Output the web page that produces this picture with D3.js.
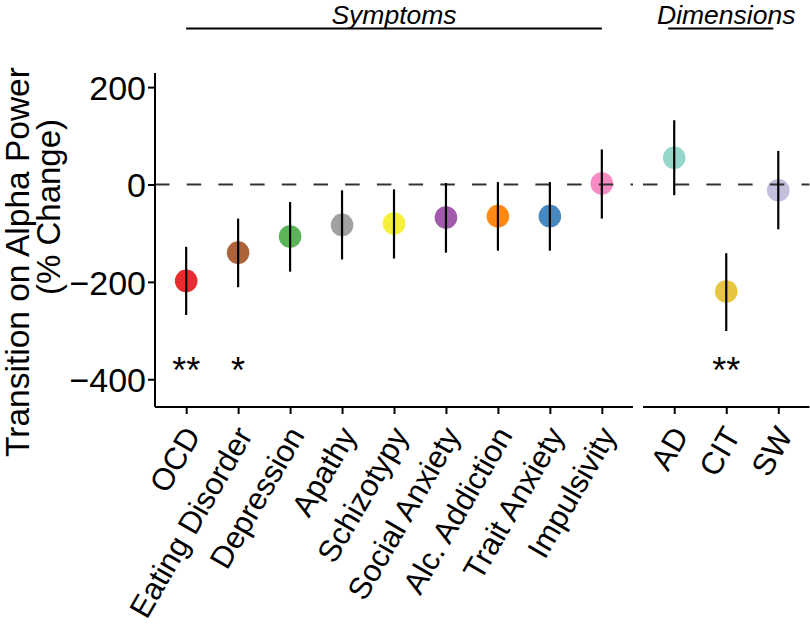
<!DOCTYPE html>
<html>
<head>
<meta charset="utf-8">
<script src="https://cdn.jsdelivr.net/npm/d3@7"></script>
<style>
  html, body { margin: 0; padding: 0; background: #fff; }
  svg { display: block; font-family: "Liberation Sans", Arial, Helvetica, sans-serif; }
</style>
</head>
<body>
<svg id="chart" width="810" height="626"></svg>
<script>
// ---------------- data ----------------
const symptoms   = ["OCD", "Eating Disorder", "Depression", "Apathy", "Schizotypy",
                    "Social Anxiety", "Alc. Addiction", "Trait Anxiety", "Impulsivity"];
const symptomEst = [-198, -140, -107, -83, -80, -68, -65, -65, 2];
const symptomLo  = [-268, -211, -179, -154, -152, -140, -136, -136, -70];
const symptomHi  = [-128, -70, -36, -12, -10, 3, 5, 5, 72];
const symptomColors = ["#E41A1C", "#A65628", "#4DAF4A", "#999999", "#F5EE2A",
                       "#984EA3", "#FF7F00", "#377EB8", "#F781BF"];
const symptomSig = ["**", "*", "", "", "", "", "", "", ""];

const dimensions = ["AD", "CIT", "SW"];
const dimensionEst = [55, -220, -12];
const dimensionLo  = [-22, -301, -92];
const dimensionHi  = [132, -141, 69];
const dimensionColors = ["#8DD3C7", "#E6C02F", "#BEBADA"];
const dimensionSig = ["", "**", ""];

const yTicks = [200, 0, -200, -400];
const yDomain = [-457, 229];
const sigLevel = -365;
const groupTitles = ["Symptoms", "Dimensions"];
const yTitle = ["Transition on Alpha Power", "(% Change)"];

// ---------------- layout ----------------
const svg = d3.select("#chart");
const plotTop = 73, plotBottom = 407;
const y = d3.scaleLinear().domain(yDomain).range([plotBottom, plotTop]);

const panels = [
  { cats: symptoms, est: symptomEst, lo: symptomLo, hi: symptomHi, col: symptomColors, sig: symptomSig,
    x: d3.scalePoint().domain(symptoms).range([155, 633]).padding(0.6), title: groupTitles[0], lineOff: [0, 0] },
  { cats: dimensions, est: dimensionEst, lo: dimensionLo, hi: dimensionHi, col: dimensionColors, sig: dimensionSig,
    x: d3.scalePoint().domain(dimensions).range([643, 809.5]).padding(0.6), title: groupTitles[1], lineOff: [-6, -5] }
];

const fontTick = 34;

panels.forEach((p, pi) => {
  const [x0, x1] = p.x.range();
  const g = svg.append("g");
  const rows = p.cats.map((c, i) => ({ c, est: p.est[i], lo: p.lo[i], hi: p.hi[i], col: p.col[i], sig: p.sig[i] }));

  // points
  g.selectAll("circle").data(rows).join("circle")
    .attr("cx", d => p.x(d.c)).attr("cy", d => y(d.est)).attr("r", 11.3)
    .attr("fill", d => d.col).attr("fill-opacity", 0.92);

  // zero dashed line
  g.append("line").attr("x1", x0).attr("x2", x1).attr("y1", y(0)).attr("y2", y(0))
    .attr("stroke", "#333").attr("stroke-width", 2).attr("stroke-dasharray", "14.5,17.2");

  // error bars
  g.selectAll("line.err").data(rows).join("line").attr("class", "err")
    .attr("x1", d => p.x(d.c)).attr("x2", d => p.x(d.c))
    .attr("y1", d => y(d.lo)).attr("y2", d => y(d.hi))
    .attr("stroke", "#000").attr("stroke-width", 2.2);

  // significance
  const fsSig = 36;
  g.selectAll("text.sig").data(rows.filter(d => d.sig)).join("text").attr("class", "sig")
    .attr("x", d => p.x(d.c)).attr("y", y(sigLevel) + 0.57 * fsSig)
    .attr("text-anchor", "middle").attr("font-size", fsSig).attr("fill", "#000")
    .text(d => d.sig);

  // x axis
  const xAxis = d3.axisBottom(p.x).tickSize(7).tickSizeOuter(0).tickFormat("");
  const ax = svg.append("g").attr("transform", `translate(0,${plotBottom})`).call(xAxis);
  ax.select(".domain").attr("stroke", "#000").attr("stroke-width", 2).attr("d", `M${x0},0H${x1}`);
  ax.selectAll(".tick line").attr("stroke", "#000").attr("stroke-width", 2);

  // x labels rotated
  svg.append("g").selectAll("text").data(p.cats).join("text")
    .attr("transform", d => `translate(${p.x(d) - 4},${plotBottom + 17}) rotate(-60)`)
    .attr("text-anchor", "end").attr("dy", "0.72em")
    .attr("font-size", 31).attr("fill", "#000").text(d => d);

  // group title
  const first = p.cats[0], last = p.cats[p.cats.length - 1];
  const cx = (p.x(first) + p.x(last)) / 2;
  svg.append("text").attr("x", cx).attr("y", 24).attr("text-anchor", "middle")
    .attr("font-size", 26.5).attr("font-style", "italic").attr("fill", "#000").text(p.title);
  svg.append("line").attr("x1", p.x(first) + p.lineOff[0]).attr("x2", p.x(last) + p.lineOff[1])
    .attr("y1", 28.5).attr("y2", 28.5).attr("stroke", "#000").attr("stroke-width", 2);
});

// y axis (left panel only)
const yAxis = d3.axisLeft(y).tickValues(yTicks).tickSize(7).tickSizeOuter(0)
  .tickFormat(d => d < 0 ? "\u2212" + Math.abs(d) : d);
const ay = svg.append("g").attr("transform", "translate(155,0)").call(yAxis);
ay.select(".domain").attr("stroke", "#000").attr("stroke-width", 2).attr("d", `M0,${plotTop}V${plotBottom}`);
ay.selectAll(".tick line").attr("stroke", "#000").attr("stroke-width", 2);
ay.selectAll(".tick text").attr("font-size", fontTick).attr("fill", "#000")
  .attr("font-family", "Liberation Sans, Arial, sans-serif").attr("x", -9).attr("dy", "0.36em");

// y title
svg.append("text").attr("transform", "translate(28.5,262) rotate(-90)")
  .attr("text-anchor", "middle").attr("font-size", 33.5).attr("fill", "#000").text(yTitle[0]);
svg.append("text").attr("transform", "translate(60,207) rotate(-90)")
  .attr("text-anchor", "middle").attr("font-size", 33).attr("fill", "#000").text(yTitle[1]);
</script>
</body>
</html>
